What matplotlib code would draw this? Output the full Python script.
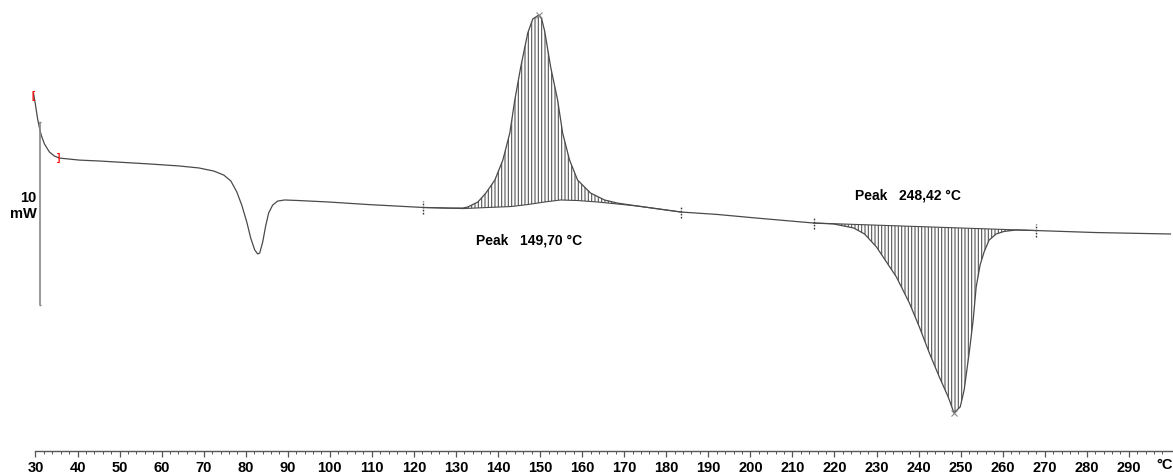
import numpy as np
import matplotlib
matplotlib.use("Agg")
import matplotlib.pyplot as plt

plt.rcParams["font.family"] = ["Liberation Sans", "DejaVu Sans"]
plt.rcParams["hatch.linewidth"] = 0.8

# DSC curve: temperature (°C) and heat flow (mW, exo up)
temp = [29.53, 30.0, 30.47, 30.95, 31.42, 32.13, 33.32, 34.50, 35.69, 40.43,
        45.17, 57.01, 64.12, 68.86, 72.42, 74.79, 76.45, 77.87, 79.05, 80.24,
        81.18, 82.13, 82.84, 83.32, 84.03, 84.74, 85.45, 86.40, 87.58, 89.24,
        92.56, 99.67, 109.15, 122.18, 128.10, 131.66, 132.84, 135.21, 137.11, 139.24,
        141.14, 142.80, 143.98, 145.40, 147.06, 148.25, 149.70, 150.38, 151.09, 152.51,
        154.17, 155.36, 157.01, 158.91, 161.99, 165.31, 168.39, 173.13, 183.55, 192.09,
        201.56, 215.07, 219.81, 224.55, 227.16, 230.0, 234.74, 237.82, 240.19, 242.56,
        244.93, 247.06, 248.42, 249.91, 250.85, 252.04, 252.99, 253.70, 254.64, 255.59,
        256.78, 258.44, 260.33, 263.18, 267.91, 282.13, 299.90]
heat = [7.70, 7.05, 6.34, 5.79, 5.36, 4.92, 4.48, 4.26, 4.15, 4.04,
        3.99, 3.83, 3.72, 3.61, 3.44, 3.22, 2.90, 2.30, 1.58, 0.66,
        -0.22, -0.87, -1.09, -1.04, -0.44, 0.44, 1.15, 1.58, 1.80, 1.86,
        1.83, 1.75, 1.61, 1.45, 1.42, 1.42, 1.48, 1.75, 2.24, 2.95,
        4.04, 5.52, 7.32, 9.13, 10.98, 11.75, 11.97, 11.75, 11.09, 9.13,
        7.32, 5.52, 4.04, 2.95, 2.24, 1.86, 1.69, 1.53, 1.20, 1.07,
        0.87, 0.60, 0.55, 0.33, 0.0, -0.71, -2.35, -3.77, -5.08, -6.50,
        -7.81, -8.91, -9.78, -9.45, -8.52, -6.50, -4.70, -2.90, -1.69, -0.98,
        -0.33, 0.0, 0.14, 0.22, 0.19, 0.08, 0.0]

# integration baselines
exo_base_t = [122.18, 131.66, 137.58, 143.03, 147.06, 151.09, 154.88, 158.91,
              163.65, 168.39, 173.13, 183.55]
exo_base_h = [1.45, 1.39, 1.45, 1.50, 1.61, 1.75, 1.86, 1.83,
              1.75, 1.64, 1.53, 1.20]
endo_base_t = [215.07, 267.91]
endo_base_h = [0.60, 0.19]

peaks_t = [149.70, 248.42]
peaks_h = [11.97, -9.78]
peak_labels = ["Peak   149,70 °C", "Peak   248,42 °C"]

temp = np.array(temp)
heat = np.array(heat)

fig = plt.figure(figsize=(11.73, 4.73), dpi=100)
ax = fig.add_axes([0, 22 / 473, 1, 451 / 473])
ax.set_xlim(21.56, 300.51)
ax.set_ylim(-11.86, 12.79)

line_col = "#4a4a4a"
hatch_col = "#555555"


def hatched(base_t, base_h):
    t0, t1 = base_t[0], base_t[-1]
    m = (temp >= t0) & (temp <= t1)
    xs = np.concatenate([temp[m], base_t[::-1]])
    ys = np.concatenate([heat[m], base_h[::-1]])
    ax.fill(xs, ys, facecolor="none", edgecolor=hatch_col, linewidth=0,
            hatch="|||||")
    ax.plot(base_t, base_h, color=line_col, lw=0.8)
    ax.vlines([t0, t1], [base_h[0] - 0.35, base_h[-1] - 0.35],
              [base_h[0] + 0.35, base_h[-1] + 0.35],
              colors="#333333", lw=1.0, linestyles=(0, (1.2, 1.0)))


hatched(exo_base_t, exo_base_h)
hatched(endo_base_t, endo_base_h)

ax.plot(temp, heat, color=line_col, lw=0.9)

# peak markers and labels
ax.plot(peaks_t, peaks_h, "x", color="#888888", ms=5, mew=0.8)
ax.text(134.7, -0.38, peak_labels[0], fontsize=10, fontweight="bold",
        va="center", ha="left")
ax.text(224.8, 2.08, peak_labels[1], fontsize=10, fontweight="bold",
        va="center", ha="left")

# red evaluation limits at the start
ax.text(temp[0], heat[0] - 0.15, "[", color="red", fontsize=7, ha="center",
        va="center", fontweight="bold")
ax.text(35.45, 4.15, "]", color="red", fontsize=7, ha="center", va="center",
        fontweight="bold")

# 10 mW scale bar
ax.vlines(31.18, -3.9, 6.1, colors="#888888", lw=1.2)
ax.hlines([-3.9, 6.1], 30.9, 31.4, colors="#888888", lw=1.0)
ax.text(30.3, 1.53, "10\nmW", fontsize=10.5, fontweight="bold", ha="right",
        va="center", multialignment="right", linespacing=1.1)

# temperature axis
for s in ["top", "left", "right"]:
    ax.spines[s].set_visible(False)
ax.spines["bottom"].set_bounds(30, 300.3)
ax.spines["bottom"].set_color("#555555")
ax.spines["bottom"].set_linewidth(1.0)
ax.set_yticks([])
ax.set_xticks(np.arange(30, 300, 10))
ax.set_xticks(np.arange(30, 300, 2), minor=True)
ax.tick_params(axis="x", which="major", length=4, width=0.9, color="#555555",
               labelsize=10.5, pad=3)
ax.tick_params(axis="x", which="minor", length=2.5, width=0.7, color="#555555")
for lab in ax.get_xticklabels():
    lab.set_fontweight("bold")
ax.text(298.4, -0.016, "°C", transform=ax.get_xaxis_transform(), fontsize=10.5,
        fontweight="bold", ha="center", va="top")

fig.savefig("out.png", dpi=100)
